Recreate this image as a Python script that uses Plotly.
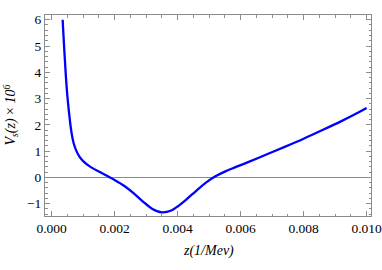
import plotly.graph_objects as go

z = [0.00035, 0.00040, 0.00045, 0.00050, 0.00055, 0.00062, 0.00070, 0.00080, 0.00090,
     0.00100, 0.00120, 0.00150, 0.00180, 0.00200, 0.00230, 0.00260, 0.00290, 0.00320,
     0.00350, 0.00380, 0.00400, 0.00430, 0.00460, 0.00490, 0.00520, 0.00550, 0.00580,
     0.00620, 0.00680, 0.00740, 0.00800, 0.00860, 0.00920, 0.00960, 0.01000]
V = [6.0, 4.9, 3.9, 3.1, 2.5, 1.8, 1.3, 0.97, 0.76,
     0.62, 0.43, 0.22, 0.03, -0.10, -0.32, -0.60, -0.92, -1.20,
     -1.33, -1.26, -1.11, -0.82, -0.50, -0.20, 0.04, 0.22, 0.37,
     0.56, 0.86, 1.16, 1.47, 1.80, 2.14, 2.38, 2.64]

x_ticks = [0.000, 0.002, 0.004, 0.006, 0.008, 0.010]
x_tick_labels = ["0.000", "0.002", "0.004", "0.006", "0.008", "0.010"]
y_ticks = [-1, 0, 1, 2, 3, 4, 5, 6]
y_tick_labels = ["\u22121", "0", "1", "2", "3", "4", "5", "6"]

frame = "#8c8c8c"
serif = "Times New Roman, Liberation Serif, serif"

fig = go.Figure(go.Scatter(x=z, y=V, mode="lines",
                           line=dict(color="#0000ff", width=2.3, shape="spline", smoothing=1.0),
                           hoverinfo="skip"))

def axis_style():
    return dict(showline=True, linecolor=frame, linewidth=1, mirror="ticks",
                ticks="inside", ticklen=5, tickcolor=frame, tickwidth=1,
                showgrid=False, automargin=False, ticklabeloverflow="allow",
                tickfont=dict(family=serif, size=13.5, color="black"))

fig.update_layout(
    width=382, height=270,
    font=dict(family=serif, size=13.5, color="black"),
    margin=dict(l=45, r=11, t=15, b=54),
    paper_bgcolor="white", plot_bgcolor="white",
    showlegend=False,
    xaxis=dict(range=[-0.00021, 0.01014], tickvals=x_ticks, ticktext=x_tick_labels,
               zeroline=False,
               minor=dict(ticks="inside", ticklen=2.5, tickcolor=frame, dtick=0.0005, tick0=0),
               **axis_style()),
    yaxis=dict(range=[-1.47, 6.18], tickvals=y_ticks, ticktext=y_tick_labels,
               zeroline=True, zerolinecolor=frame, zerolinewidth=1,
               minor=dict(ticks="inside", ticklen=2.5, tickcolor=frame, dtick=0.2, tick0=0),
               **axis_style()),
    annotations=[
        dict(text="<i>z(1/Mev)</i>", xref="paper", yref="paper", x=0.5, y=-0.174,
             xanchor="center", yanchor="middle", showarrow=False,
             font=dict(family=serif, size=14, color="black")),
        dict(text="<i>V<sub>s</sub>(z)</i> × <i>10<sup>6</sup></i>", xref="paper", yref="paper",
             x=-0.107, y=0.5, xanchor="center", yanchor="middle", textangle=-90,
             showarrow=False, font=dict(family=serif, size=14, color="black")),
    ],
)

fig.write_html("out.html", config={"displayModeBar": False, "staticPlot": True},
               post_script="document.body.style.margin='0';document.body.style.overflow='hidden';")
